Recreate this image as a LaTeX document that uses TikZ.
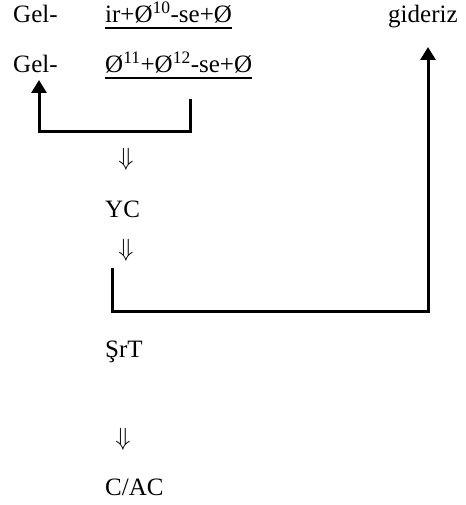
\documentclass[tikz,border=0pt]{standalone}
\usepackage{fontspec}
\setmainfont{Liberation Serif}
\usetikzlibrary{arrows.meta}
\begin{document}
\begin{tikzpicture}[x=1pt,y=-1pt,
  txt/.style={anchor=base west,inner sep=0pt,font=\fontsize{25}{30}\selectfont},
  dn/.style={inner sep=0pt,font=\fontsize{24}{28}\selectfont},
  uline/.style={line width=1.6pt},
  bracket/.style={line width=3pt,line join=miter,-{Triangle[width=15pt,length=13pt]}}]
\useasboundingbox (0,0) rectangle (465,505);
\node[txt] (gel1) at (13,23) {Gel-};
\node[txt] (f1) at (105,23) {ir+Ø\textsuperscript{10}-se+Ø};
\node[txt] (gid) at (388,23) {gideriz};
\node[txt] (gel2) at (13,73) {Gel-};
\node[txt] (f2) at (105,73) {Ø\textsuperscript{11}+Ø\textsuperscript{12}-se+Ø};
\draw[uline] ([yshift=-5pt]f1.base west) -- ([yshift=-5pt]f1.base east);
\draw[uline] ([yshift=-5pt]f2.base west) -- ([yshift=-5pt]f2.base east);
\node[dn] (d1) at (126,159) {$\Downarrow$};
\node[txt] (yc) at (105,217) {YC};
\node[dn] (d2) at (126,250) {$\Downarrow$};
\node[txt] (srt) at (105,357) {ŞrT};
\node[dn] (d3) at (123,439) {$\Downarrow$};
\node[txt] (cac) at (105,495) {C/AC};
\coordinate (s1) at (190,99);
\coordinate (e1) at (39,80);
\coordinate (s2) at (112,268);
\coordinate (e2) at (428,47);
\draw[bracket] (s1) -- (s1 |- 0,132) -| (e1);
\draw[bracket] (s2) -- (s2 |- 0,311) -| (e2);
\end{tikzpicture}
\end{document}
